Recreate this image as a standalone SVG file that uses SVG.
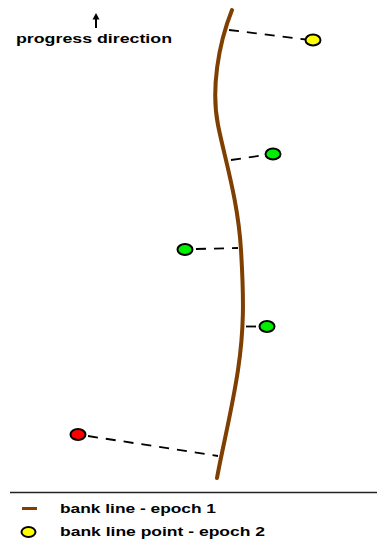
<svg xmlns="http://www.w3.org/2000/svg" width="377" height="545" viewBox="0 0 377 545">
<style>
.lbl{font-family:"Liberation Sans",Arial,sans-serif;font-weight:bold;font-size:12px;fill:#000}
.conn{stroke:#000;stroke-width:1.8;stroke-dasharray:10 8;fill:none}
.pt{stroke:#000;stroke-width:2}
.bank{stroke:#7f3f00;stroke-width:4;fill:none;stroke-linecap:round}
</style>
<rect width="377" height="545" fill="#fff"/>
<g id="progress">
<line x1="96" y1="28" x2="96" y2="17" stroke="#000" stroke-width="2"/>
<path d="M92.5,19.5 L96,13 L99.5,19.5 Z" fill="#000"/>
<text class="lbl" x="16" y="43" textLength="156" lengthAdjust="spacingAndGlyphs">progress direction</text>
</g>
<g id="bank-line">
<path class="bank" d="M232,10 C218,45 211,90 218,125 C225,160 238,200 241,250 C244,300 244,330 238,370 C232,410 222,450 217,478"/>
</g>
<g id="connectors">
<line class="conn" x1="229" y1="30" x2="306" y2="39.5"/>
<line class="conn" x1="231" y1="160" x2="265" y2="155"/>
<line class="conn" x1="196" y1="249" x2="238" y2="248"/>
<line class="conn" x1="246" y1="326.5" x2="262" y2="326.5" stroke-dasharray="9 3"/>
<line class="conn" x1="88" y1="436" x2="218" y2="456" stroke-dasharray="14 8"/>
</g>
<g id="point-yellow"><ellipse class="pt" cx="313" cy="40" rx="7.5" ry="5.5" fill="#ffff00"/></g>
<g id="point-green-1"><ellipse class="pt" cx="273" cy="154" rx="7.5" ry="5.5" fill="#00ee00"/></g>
<g id="point-green-2"><ellipse class="pt" cx="185" cy="249.5" rx="7.5" ry="5.5" fill="#00ee00"/></g>
<g id="point-green-3"><ellipse class="pt" cx="267" cy="326.5" rx="7.5" ry="5.5" fill="#00ee00"/></g>
<g id="point-red"><ellipse class="pt" cx="78" cy="434.5" rx="7.5" ry="5.5" fill="#ff0000"/></g>
<g id="legend">
<line x1="10" y1="492.5" x2="377" y2="492.5" stroke="#222" stroke-width="1.5"/>
<line x1="22" y1="508.5" x2="37" y2="508.5" stroke="#7f3f00" stroke-width="3"/>
<text class="lbl" x="60" y="513" textLength="156" lengthAdjust="spacingAndGlyphs">bank line - epoch 1</text>
<ellipse class="pt" cx="28.5" cy="532" rx="7" ry="5" fill="#ffff00"/>
<text class="lbl" x="60" y="535.5" textLength="205" lengthAdjust="spacingAndGlyphs">bank line point - epoch 2</text>
</g>
</svg>
